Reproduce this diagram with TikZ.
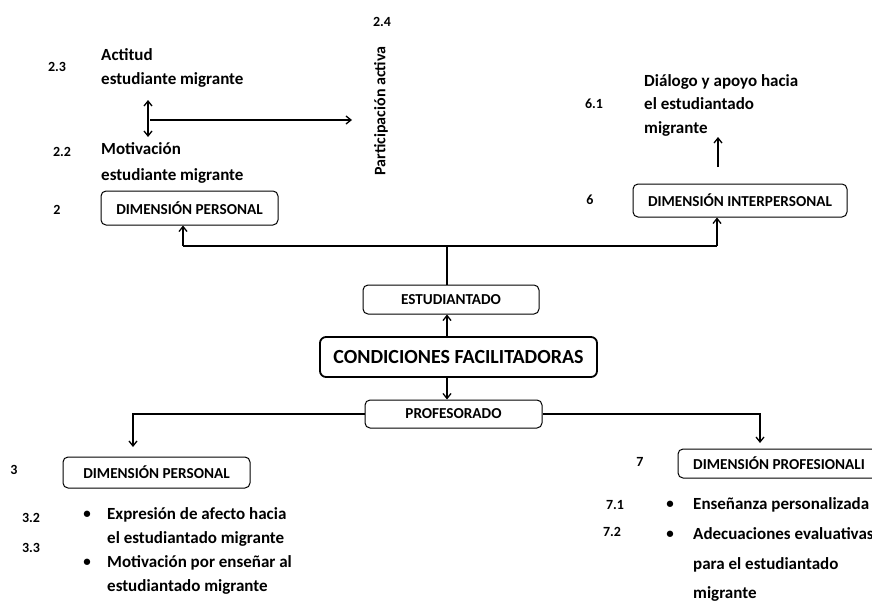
\documentclass[tikz,border=0pt]{standalone}
\usepackage{fontspec}
\setmainfont{Carlito}
\usetikzlibrary{arrows.meta}
\begin{document}
\begin{tikzpicture}[x=1pt,y=-1pt,
  every node/.style={inner sep=0pt, font=\bfseries},
  txt/.style={font=\bfseries\fontsize{17}{24}\selectfont, align=left, anchor=west},
  num/.style={font=\bfseries\fontsize{14}{16}\selectfont},
  box/.style={draw, rounded corners=5pt, line width=1pt, font=\bfseries\fontsize{15.2}{17}\selectfont},
  mainbox/.style={draw, rounded corners=6pt, line width=1.8pt, font=\bfseries\fontsize{20}{22}\selectfont},
  conn/.style={line width=1.3pt},
  arr/.style={line width=1.3pt, -{Straight Barb[length=5pt,width=8pt]}},
  darr/.style={line width=1.3pt, {Straight Barb[length=5pt,width=8pt]}-{Straight Barb[length=5pt,width=8pt]}}]
\useasboundingbox (0,0) rectangle (872,605);

% top left
\node[num] (n24) at (382,22) {2.4};
\node[font=\bfseries\fontsize{16}{18}\selectfont, rotate=90] (tpa) at (381,111) {Participación activa};
\node[num] (n23) at (57,67) {2.3};
\node[txt] (tact) at (101,68) {Actitud\\estudiante migrante};
\node[num] (n22) at (62,152) {2.2};
\node[txt, font=\bfseries\fontsize{17}{26}\selectfont] (tmot) at (101,163) {Motivación\\estudiante migrante};
\node[num] (n2) at (57,210) {2};
\node[box, minimum width=177pt, minimum height=34pt] (dp2) at (189.5,208) {DIMENSIÓN PERSONAL};

\coordinate (da) at (148,100);
\coordinate (db) at (148,137);
\coordinate (ha) at (150,120);
\coordinate (hb) at (352,120);
\draw[darr] (da) -- (db);
\draw[arr] (ha) -- (hb);

% top right
\node[num] (n61) at (594,104) {6.1};
\node[txt, font=\bfseries\fontsize{17}{23.5}\selectfont] (tdia) at (644,105) {Diálogo y apoyo hacia\\el estudiantado\\migrante};
\node[num] (n6) at (590,200) {6};
\node[box, minimum width=214pt, minimum height=33pt] (di) at (740,200.5) {DIMENSIÓN INTERPERSONAL};
\coordinate (ua) at (718,167);
\coordinate (ub) at (718,137);
\draw[arr] (ua) -- (ub);

% centre
\node[box, minimum width=176pt, minimum height=29pt] (est) at (451,299.5) {ESTUDIANTADO};
\node[mainbox, minimum width=277pt, minimum height=40pt] (cf) at (458.5,357) {CONDICIONES FACILITADORAS};
\node[box, minimum width=177pt, minimum height=28pt] (prof) at (453.5,414) {PROFESORADO};

\coordinate (j) at (447,246);
\coordinate (jl) at (183,246);
\coordinate (jr) at (717,246);
\draw[conn] (jl) -- (jr);
\draw[conn] (j) -- (j |- est.north);
\draw[arr] (jl) -- (jl |- dp2.south);
\draw[arr] (jr) -- (jr |- di.south);
\draw[arr] (j |- cf.north) -- (j |- est.south);
\draw[arr] (j |- cf.south) -- (j |- prof.north);

% bottom
\coordinate (cl) at (133,447);
\coordinate (cr) at (760,443);
\draw[arr] (prof.west) -| (cl);
\draw[arr] (prof.east) -| (cr);

\node[num] (n3) at (14,470) {3};
\node[box, minimum width=187pt, minimum height=31pt] (dp3) at (156.5,472.5) {DIMENSIÓN PERSONAL};
\node[num] (n7) at (640,462) {7};
\node[box, minimum width=202pt, minimum height=29pt] (dpr) at (779,463.5) {DIMENSIÓN PROFESIONALI};

\node[num] (n32) at (31,518) {3.2};
\node[num] (n33) at (31,548) {3.3};
\node[font=\bfseries\fontsize{15}{18}\selectfont] (b1) at (87,515) {•};
\node[font=\bfseries\fontsize{15}{18}\selectfont] (b2) at (87,563) {•};
\node[txt] (l1) at (107,527) {Expresión de afecto hacia\\el estudiantado migrante};
\node[txt] (l2) at (107,575) {Motivación por enseñar al\\estudiantado migrante};

\node[num] (n71) at (615,505) {7.1};
\node[num] (n72) at (612,532) {7.2};
\node[font=\bfseries\fontsize{15}{18}\selectfont] (b3) at (670,505) {•};
\node[font=\bfseries\fontsize{15}{18}\selectfont] (b4) at (670,535) {•};
\node[txt] (r1) at (693,505) {Enseñanza personalizada};
\node[txt, font=\bfseries\fontsize{17}{29.5}\selectfont] (r2) at (693,564.5) {Adecuaciones evaluativas\\para el estudiantado\\migrante};
\end{tikzpicture}
\end{document}
